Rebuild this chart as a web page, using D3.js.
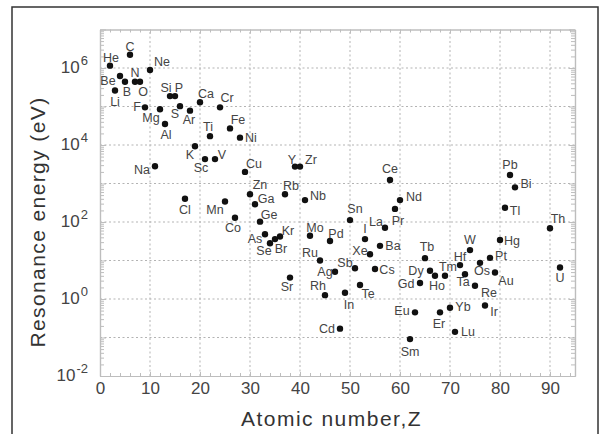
<!DOCTYPE html>
<html>
<head>
<meta charset="utf-8">
<script src="https://cdn.jsdelivr.net/npm/d3@7"></script>
<style>
body { margin: 0; background: #fff; }
svg { display: block; font-family: "Liberation Sans", Arial, Helvetica, sans-serif; }
</style>
</head>
<body>
<svg id="chart" width="600" height="434"></svg>
<script>
// values (energy in eV)
const symbols = ['He', 'Li', 'Be', 'B', 'C', 'N', 'O', 'F', 'Ne', 'Na', 'Mg', 'Al', 'Si', 'P', 'S', 'Cl', 'Ar', 'K', 'Ca', 'Sc',
    'Ti', 'V', 'Cr', 'Mn', 'Fe', 'Co', 'Ni', 'Cu', 'Zn', 'Ga', 'Ge', 'As', 'Se', 'Br', 'Kr', 'Rb', 'Sr', 'Y', 'Zr', 'Nb',
    'Mo', 'Ru', 'Rh', 'Pd', 'Ag', 'Cd', 'In', 'Sn', 'Sb', 'Te', 'I', 'Xe', 'Cs', 'Ba', 'La', 'Ce', 'Pr', 'Nd', 'Sm', 'Eu',
    'Gd', 'Tb', 'Dy', 'Ho', 'Er', 'Tm', 'Yb', 'Lu', 'Hf', 'Ta', 'W', 'Re', 'Os', 'Ir', 'Pt', 'Au', 'Hg', 'Tl', 'Pb', 'Bi',
    'Th', 'U'];
const atomicNumbers = [2, 3, 4, 5, 6, 7, 8, 9, 10, 11, 12, 13, 14, 15, 16, 17, 18, 19, 20, 21,
    22, 23, 24, 25, 26, 27, 28, 29, 30, 31, 32, 33, 34, 35, 36, 37, 38, 39, 40, 41,
    42, 44, 45, 46, 47, 48, 49, 50, 51, 52, 53, 54, 55, 56, 57, 58, 59, 60, 62, 63,
    64, 65, 66, 67, 68, 69, 70, 71, 72, 73, 74, 75, 76, 77, 78, 79, 80, 81, 82, 83,
    90, 92];
const energies = [1.15e6, 2.6e5, 6.2e5, 4.4e5, 2.2e6, 4.4e5, 4.4e5, 9.5e4, 8.9e5, 2.8e3, 8.5e4, 3.5e4, 1.86e5, 1.86e5, 1.02e5, 400, 7.8e4, 9.3e3, 1.29e5, 4.3e3,
    1.7e4, 4.3e3, 9.5e4, 340, 2.7e4, 129, 1.55e4, 2.0e3, 525, 290, 102, 48, 28, 36, 42, 525, 3.6, 2.75e3, 2.75e3, 370,
    44, 10, 1.26, 32, 5.1, 0.17, 1.45, 112, 6.3, 2.3, 36, 14.5, 6.0, 24, 71, 1230, 219, 370, 0.091, 0.45,
    2.6, 11.5, 5.4, 4.0, 0.45, 4.0, 0.59, 0.14, 7.6, 4.4, 18.6, 2.2, 8.7, 0.68, 11.7, 4.9, 34, 234, 1660, 794,
    69, 6.6];

const xTicks = [0, 10, 20, 30, 40, 50, 60, 70, 80, 90];
const yTickExponents = [-2, 0, 2, 4, 6];
const xTitle = 'Atomic number,Z';
const yTitle = 'Resonance energy (eV)';

// where each element label sits: [dx, dy] of the label centre from its dot
const labelOffsets = {
    He: [1, -8], Li: [0, 11], Be: [-12, 5], B: [2, 10], C: [0, -8], N: [0, -9], O: [3, 10], F: [-8, 0],
    Ne: [12, -8], Na: [-13, 4], Mg: [-9, 9], Al: [1, 11], Si: [-4, -8], P: [4, -8], S: [-5, 8], Cl: [0, 11],
    Ar: [-1, 9], K: [-5, 9], Ca: [6, -8], Sc: [-4, 9], Ti: [-2, -9], V: [7, -4], Cr: [7, -9], Mn: [-10, 8],
    Fe: [8, -8], Co: [-2, 10], Ni: [11, 0], Cu: [9, -8], Zn: [10, -9], Ga: [11, -5], Ge: [9, -7], As: [-10, 5],
    Se: [-6, 8], Br: [6, 10], Kr: [8, -6], Rb: [6, -8], Sr: [-3, 9], Y: [-3, -7], Zr: [11, -7], Nb: [13, -4],
    Mo: [5, -8], Ru: [-10, -8], Rh: [-7, -9], Pd: [6, -7], Ag: [-10, 0], Cd: [-13, 0], In: [4, 12], Sn: [5, -11],
    Sb: [-10, -5], Te: [8, 9], I: [0, -10], Xe: [-10, -3], Cs: [12, 1], Ba: [13, 0], La: [-9, -6], Ce: [0, -11],
    Pr: [3, 12], Nd: [14, -3], Sm: [0, 13], Eu: [-13, -1], Gd: [-14, 1], Tb: [2, -11], Dy: [-14, 0], Ho: [2, 10],
    Er: [-1, 12], Tm: [3, -9], Yb: [13, -1], Lu: [13, 0], Hf: [0, -8], Ta: [-2, 8], W: [0, -10], Re: [14, 7],
    Os: [2, 8], Ir: [9, 7], Pt: [11, -2], Au: [11, 9], Hg: [12, 1], Tl: [10, 3], Pb: [0, -10], Bi: [11, -3],
    Th: [8, -9], U: [0, 11]
};

const svg = d3.select('#chart');
const axis_color = '#bdbdbd';
const grid_color = '#b3b3b3';
const text_color = '#444';

const x = d3.scaleLinear().domain([0, 95]).range([100, 575]);
const y = d3.scaleLog().domain([1e-2, 1e7]).range([376, 29.5]);
const [plot_left, plot_right] = x.range();
const [plot_bottom, plot_top] = y.range();

// outer frame, open at the bottom of the picture
svg.append('rect')
    .attr('x', 12).attr('y', 7)
    .attr('width', 586).attr('height', 460)
    .attr('fill', 'none')
    .attr('stroke', '#333')
    .attr('stroke-width', 1.5);

// grid
const decades = d3.range(-2, 8).map(e => Math.pow(10, e));
const grid = svg.append('g')
    .attr('stroke', grid_color)
    .attr('stroke-width', 1)
    .attr('stroke-dasharray', '2,2.5');
grid.selectAll('line.h').data(decades.slice(1, -1)).join('line')
    .attr('class', 'h')
    .attr('x1', plot_left).attr('x2', plot_right)
    .attr('y1', d => y(d)).attr('y2', d => y(d));
grid.selectAll('line.v').data(xTicks.slice(1)).join('line')
    .attr('class', 'v')
    .attr('x1', d => x(d)).attr('x2', d => x(d))
    .attr('y1', plot_bottom).attr('y2', plot_top);

// axes: ticks drawn inward on all four sides
const minorX = d3.range(0, 95, 2).filter(v => v % 10 !== 0);
const minorY = [];
d3.range(-2, 7).forEach(e => d3.range(2, 10).forEach(m => minorY.push(m * Math.pow(10, e))));

function style_axis(g) {
    g.selectAll('.domain').attr('stroke', axis_color).attr('stroke-width', 1.2);
    g.selectAll('.tick line').attr('stroke', axis_color).attr('stroke-width', 1);
}

const axes = svg.append('g');
axes.append('g').attr('transform', `translate(0,${plot_bottom})`)
    .call(d3.axisBottom(x).tickValues(minorX).tickSize(-3).tickSizeOuter(0).tickFormat(''))
    .call(style_axis);
axes.append('g').attr('transform', `translate(0,${plot_top})`)
    .call(d3.axisTop(x).tickValues(minorX).tickSize(-3).tickSizeOuter(0).tickFormat(''))
    .call(style_axis);
axes.append('g').attr('transform', `translate(0,${plot_top})`)
    .call(d3.axisTop(x).tickValues(xTicks).tickSize(-4).tickSizeOuter(0).tickFormat(''))
    .call(style_axis);
axes.append('g').attr('transform', `translate(${plot_left},0)`)
    .call(d3.axisLeft(y).tickValues(minorY).tickSize(-4).tickSizeOuter(0).tickFormat(''))
    .call(style_axis);
axes.append('g').attr('transform', `translate(${plot_left},0)`)
    .call(d3.axisLeft(y).tickValues(decades).tickSize(-6).tickSizeOuter(0).tickFormat(''))
    .call(style_axis);
axes.append('g').attr('transform', `translate(${plot_right},0)`)
    .call(d3.axisRight(y).tickValues(minorY).tickSize(-4).tickSizeOuter(0).tickFormat(''))
    .call(style_axis);
axes.append('g').attr('transform', `translate(${plot_right},0)`)
    .call(d3.axisRight(y).tickValues(decades).tickSize(-6).tickSizeOuter(0).tickFormat(''))
    .call(style_axis);

const x_axis = axes.append('g').attr('transform', `translate(0,${plot_bottom})`)
    .call(d3.axisBottom(x).tickValues(xTicks).tickSize(-4).tickSizeOuter(0).tickPadding(6))
    .call(style_axis);
x_axis.selectAll('.tick text')
    .attr('fill', text_color)
    .attr('font-size', 17)
    .attr('font-family', '"Liberation Sans", Arial, sans-serif');

// y labels as 10 with a superscript exponent
const y_labels = axes.append('g')
    .attr('fill', text_color)
    .attr('text-anchor', 'end');
const y_label = y_labels.selectAll('text').data(yTickExponents).join('text')
    .attr('x', plot_left - 12)
    .attr('y', d => y(Math.pow(10, d)) + 5);
y_label.append('tspan').attr('font-size', 17).text('10');
y_label.append('tspan').attr('font-size', 13).attr('dx', 1).attr('dy', -8).text(d => d);

// points
const points = atomicNumbers.map((z, i) => ({z, e: energies[i], s: symbols[i]}));
svg.append('g').selectAll('circle').data(points).join('circle')
    .attr('cx', d => x(d.z))
    .attr('cy', d => y(d.e))
    .attr('r', 3.2)
    .attr('fill', '#111');

svg.append('g')
    .attr('font-size', 12.5)
    .attr('fill', text_color)
    .attr('text-anchor', 'middle')
    .attr('dominant-baseline', 'central')
    .selectAll('text').data(points).join('text')
    .attr('x', d => x(d.z) + labelOffsets[d.s][0])
    .attr('y', d => y(d.e) + labelOffsets[d.s][1])
    .text(d => d.s);

// axis titles
svg.append('text')
    .attr('x', (plot_left + plot_right) / 2 - 6)
    .attr('y', 426)
    .attr('text-anchor', 'middle')
    .attr('font-size', 21)
    .attr('letter-spacing', 1.5)
    .attr('fill', '#333')
    .text(xTitle);
svg.append('text')
    .attr('transform', 'translate(45,222) rotate(-90)')
    .attr('text-anchor', 'middle')
    .attr('font-size', 21)
    .attr('letter-spacing', 1.4)
    .attr('fill', '#333')
    .text(yTitle);
</script>
</body>
</html>
